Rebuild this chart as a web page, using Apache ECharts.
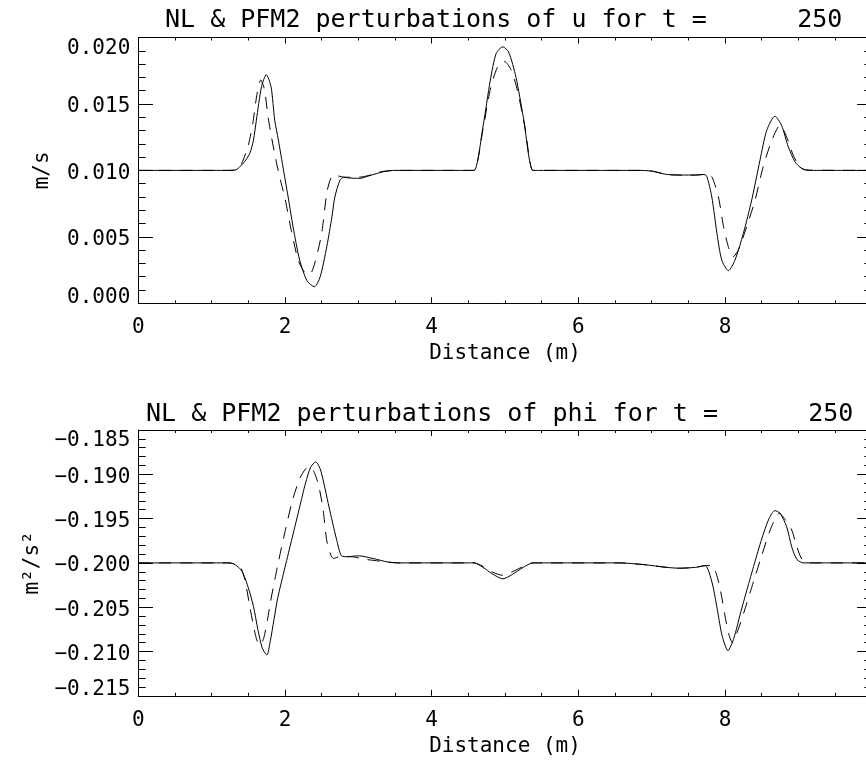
<!DOCTYPE html>
<html><head><meta charset="utf-8">
<script src="https://cdn.jsdelivr.net/npm/echarts@6/dist/echarts.min.js"></script>
<style>html,body{margin:0;padding:0;background:#fff}#c{width:866px;height:762px}</style>
</head><body><div id="c"></div>
<script>
// ---- data ----
const titleU = 'NL & PFM2 perturbations of u for t =      250';
const titlePhi = 'NL & PFM2 perturbations of phi for t =      250';
const xName = 'Distance (m)';
const yNameU = 'm/s';
const yNamePhi = 'm\u00b2/s\u00b2';

const distNLu = [0, 1.20, 1.32, 1.43, 1.52, 1.57, 1.61, 1.68, 1.745, 1.81, 1.86, 1.91, 1.98, 2.05, 2.11, 2.20, 2.30, 2.40, 2.48, 2.57, 2.64, 2.68, 2.75, 2.80, 2.90, 3.02, 3.15, 3.34, 3.50, 4.50, 4.58, 4.70, 4.80, 4.88, 4.97, 5.05, 5.15, 5.25, 5.38, 5.46, 6.80, 7.00, 7.20, 7.40, 7.60, 7.70, 7.75, 7.82, 7.89, 7.955, 8.045, 8.136, 8.25, 8.364, 8.477, 8.568, 8.68, 8.77, 8.863, 8.954, 9.045, 9.16, 10];
const uNL = [0.0100, 0.0100, 0.01002, 0.01053, 0.01128, 0.01228, 0.01378, 0.0163, 0.0172, 0.0163, 0.01378, 0.01228, 0.01002, 0.00777, 0.00576, 0.00326, 0.0017, 0.00125, 0.0020, 0.00426, 0.00651, 0.0080, 0.00927, 0.00947, 0.00942, 0.0094, 0.0096, 0.0099, 0.0100, 0.0100, 0.0100, 0.0133, 0.0168, 0.0188, 0.0193, 0.0189, 0.0170, 0.0140, 0.0100, 0.0100, 0.0100, 0.00995, 0.0097, 0.00965, 0.00965, 0.0097, 0.00957, 0.0080, 0.00526, 0.00326, 0.00245, 0.00326, 0.00526, 0.00777, 0.01077, 0.0130, 0.01408, 0.0134, 0.01177, 0.01065, 0.01015, 0.0100, 0.0100];

const distPFMu = [0, 1.25, 1.34, 1.41, 1.50, 1.56, 1.62, 1.67, 1.72, 1.77, 1.82, 1.887, 1.95, 2.00, 2.09, 2.18, 2.27, 2.34, 2.41, 2.50, 2.578, 2.66, 2.80, 2.95, 3.06, 3.20, 3.31, 3.50, 4.50, 4.58, 4.70, 4.80, 4.90, 4.99, 5.08, 5.17, 5.27, 5.38, 5.46, 6.80, 7.00, 7.20, 7.40, 7.60, 7.75, 7.82, 7.91, 7.98, 8.045, 8.11, 8.18, 8.295, 8.41, 8.52, 8.64, 8.75, 8.84, 8.93, 9.02, 9.11, 10];
const uPFM = [0.0100, 0.0100, 0.01008, 0.01053, 0.0119, 0.0135, 0.0158, 0.0168, 0.0161, 0.0140, 0.0124, 0.0105, 0.0090, 0.0079, 0.00538, 0.00326, 0.0023, 0.0022, 0.0031, 0.00526, 0.00852, 0.00965, 0.0095, 0.00948, 0.00952, 0.0097, 0.0099, 0.0100, 0.0100, 0.0100, 0.0131, 0.0161, 0.0178, 0.0182, 0.0176, 0.0160, 0.0133, 0.0100, 0.0100, 0.0100, 0.00995, 0.0097, 0.00965, 0.00965, 0.0097, 0.00952, 0.0080, 0.00576, 0.00426, 0.0035, 0.0040, 0.00576, 0.00777, 0.01027, 0.01228, 0.0134, 0.01253, 0.01115, 0.01027, 0.01002, 0.0100];

const distNLphi = [0, 1.20, 1.30, 1.38, 1.43, 1.50, 1.57, 1.63, 1.69, 1.753, 1.80, 1.85, 1.90, 2.00, 2.10, 2.20, 2.28, 2.35, 2.42, 2.48, 2.53, 2.59, 2.65, 2.705, 2.77, 2.85, 3.00, 3.20, 3.40, 3.55, 4.50, 4.58, 4.70, 4.82, 4.97, 5.10, 5.25, 5.38, 5.46, 6.55, 6.90, 7.20, 7.38, 7.60, 7.73, 7.78, 7.84, 7.90, 7.96, 8.04, 8.12, 8.21, 8.30, 8.40, 8.50, 8.60, 8.68, 8.75, 8.84, 8.91, 8.98, 9.07, 10];
const phiNL = [-0.2000, -0.2000, -0.2001, -0.2006, -0.2012, -0.2028, -0.2049, -0.2075, -0.2096, -0.2104, -0.2088, -0.2064, -0.2040, -0.2005, -0.1971, -0.1937, -0.1910, -0.1892, -0.1886, -0.1894, -0.1910, -0.1933, -0.1955, -0.1974, -0.1992, -0.1993, -0.1992, -0.1995, -0.1999, -0.2000, -0.2000, -0.2000, -0.2005, -0.2012, -0.2018, -0.2013, -0.2005, -0.2000, -0.2000, -0.2000, -0.2002, -0.2005, -0.2006, -0.2005, -0.2003, -0.2010, -0.2028, -0.2055, -0.2082, -0.2099, -0.2085, -0.2057, -0.2030, -0.2001, -0.1973, -0.1950, -0.1941, -0.1944, -0.1959, -0.1982, -0.1996, -0.2000, -0.2000];

const distPFMphi = [0, 1.25, 1.30, 1.387, 1.45, 1.52, 1.58, 1.62, 1.66, 1.71, 1.76, 1.80, 1.90, 2.00, 2.10, 2.20, 2.28, 2.34, 2.40, 2.46, 2.52, 2.57, 2.62, 2.66, 2.75, 2.90, 3.10, 3.40, 3.55, 4.50, 4.58, 4.70, 4.82, 4.97, 5.10, 5.25, 5.38, 5.46, 6.55, 6.90, 7.20, 7.38, 7.60, 7.75, 7.82, 7.88, 7.94, 8.00, 8.05, 8.10, 8.18, 8.28, 8.40, 8.50, 8.62, 8.74, 8.82, 8.91, 8.98, 9.05, 9.15, 10];
const phiPFM = [-0.2000, -0.2000, -0.2001, -0.2004, -0.2018, -0.2049, -0.2075, -0.2088, -0.2093, -0.2085, -0.2065, -0.2045, -0.2003, -0.1965, -0.1930, -0.1905, -0.1894, -0.1891, -0.1898, -0.1913, -0.1940, -0.1975, -0.1990, -0.1995, -0.1993, -0.1993, -0.1996, -0.1999, -0.2000, -0.2000, -0.2000, -0.2004, -0.2010, -0.2014, -0.2010, -0.2004, -0.2000, -0.2000, -0.2000, -0.2002, -0.2005, -0.2006, -0.2005, -0.2003, -0.2003, -0.2012, -0.2032, -0.2060, -0.2080, -0.2090, -0.2075, -0.2050, -0.2018, -0.1992, -0.1962, -0.1944, -0.1951, -0.1963, -0.1982, -0.1996, -0.2000, -0.2000];

// axis ranges
const xRange = [0, 10], xStep = 2;
const uRange = [0, 0.020], phiRange = [-0.215, -0.185], yStep = 0.005;

// ---- chart ----
const FONT = '"DejaVu Sans Mono", "Liberation Mono", monospace';
const INK = '#000';
function num(v) { const s = Math.abs(v).toFixed(3); return (v < -1e-9 ? '\u2212' : '') + s; }
function pairs(xs, ys) { return xs.map((x, i) => [x, ys[i]]); }

const GRID_LEFT = 138.3, GRID_W = 733.4, GRID_H = 265.8;
const grids = [
  { left: GRID_LEFT, top: 37.5, width: GRID_W, height: GRID_H, outerBoundsMode: 'none', containLabel: false },
  { left: GRID_LEFT, top: 430, width: GRID_W, height: GRID_H, outerBoundsMode: 'none', containLabel: false }
];

function xAxes(g) {
  const common = {
    type: 'value', gridIndex: g, min: xRange[0], max: xRange[1], interval: xStep,
    axisLine: { show: true, onZero: false, lineStyle: { color: INK, width: 1 } },
    axisTick: { show: true, inside: true, length: 6, lineStyle: { color: INK, width: 1 } },
    minorTick: { show: true, splitNumber: 4, length: 3, lineStyle: { color: INK, width: 1 } },
    splitLine: { show: false }, minorSplitLine: { show: false }
  };
  return [
    Object.assign({}, common, {
      position: 'bottom',
      axisLabel: { show: true, margin: 14, color: INK, fontFamily: FONT, fontSize: 21, showMaxLabel: false, showMinLabel: true },
      name: xName, nameLocation: 'middle', nameGap: 40,
      nameTextStyle: { color: INK, fontFamily: FONT, fontSize: 21 }
    }),
    Object.assign({}, common, { position: 'top', axisLabel: { show: false } })
  ];
}
function yAxes(g, range, name) {
  const common = {
    type: 'value', gridIndex: g, min: range[0], max: range[1], interval: yStep,
    axisLine: { show: true, onZero: false, lineStyle: { color: INK, width: 1 } },
    axisTick: { show: true, inside: true, length: 14.6, lineStyle: { color: INK, width: 1 } },
    minorTick: { show: true, splitNumber: 5, length: 7.3, lineStyle: { color: INK, width: 1 } },
    splitLine: { show: false }, minorSplitLine: { show: false }
  };
  const tok = { color: INK, fontFamily: FONT, fontSize: 21 };
  return [
    Object.assign({}, common, {
      position: 'left',
      axisLabel: { show: true, margin: 8, color: INK, fontFamily: FONT, fontSize: 21,
        showMinLabel: true, showMaxLabel: true,
        formatter: function (v) {
          if (Math.abs(v - range[1]) < 1e-9) return '{hi|' + num(v) + '}';
          if (Math.abs(v - range[0]) < 1e-9) return '{lo|' + num(v) + '}';
          return '{n|' + num(v) + '}';
        },
        rich: {
          n: Object.assign({ padding: [6, 0, 0, 0] }, tok),
          hi: Object.assign({ padding: [22, 0, 0, 0] }, tok),
          lo: Object.assign({ padding: [0, 0, 12, 0] }, tok)
        }
      },
      name: name, nameLocation: 'middle', nameGap: 85, nameRotate: 90,
      nameTextStyle: { color: INK, fontFamily: FONT, fontSize: 21 }
    }),
    Object.assign({}, common, { position: 'right', axisLabel: { show: false } })
  ];
}

function lineSeries(xi, yi, data, dashed) {
  return {
    type: 'line', xAxisIndex: xi, yAxisIndex: yi, data: data,
    symbol: 'none', showSymbol: false, smooth: 0.25, clip: true, silent: true,
    lineStyle: { color: INK, width: 1, type: dashed ? [12, 9] : 'solid' },
    animation: false
  };
}

const titleStyle = { color: INK, fontFamily: FONT, fontSize: 25, fontWeight: 'normal' };
const option = {
  backgroundColor: '#fff',
  animation: false,
  title: [
    { text: titleU, left: 160, top: 3, textStyle: titleStyle },
    { text: titlePhi, left: 141, top: 397, textStyle: titleStyle }
  ],
  grid: grids,
  xAxis: [].concat(xAxes(0), xAxes(1)),
  yAxis: [].concat(yAxes(0, uRange, yNameU), yAxes(1, phiRange, yNamePhi)),
  series: [
    lineSeries(0, 0, pairs(distNLu, uNL), false),
    lineSeries(0, 0, pairs(distPFMu, uPFM), true),
    lineSeries(2, 2, pairs(distNLphi, phiNL), false),
    lineSeries(2, 2, pairs(distPFMphi, phiPFM), true)
  ]
};
const chart = echarts.init(document.getElementById('c'), null, { renderer: 'canvas' });
chart.setOption(option);
</script>
</body></html>
